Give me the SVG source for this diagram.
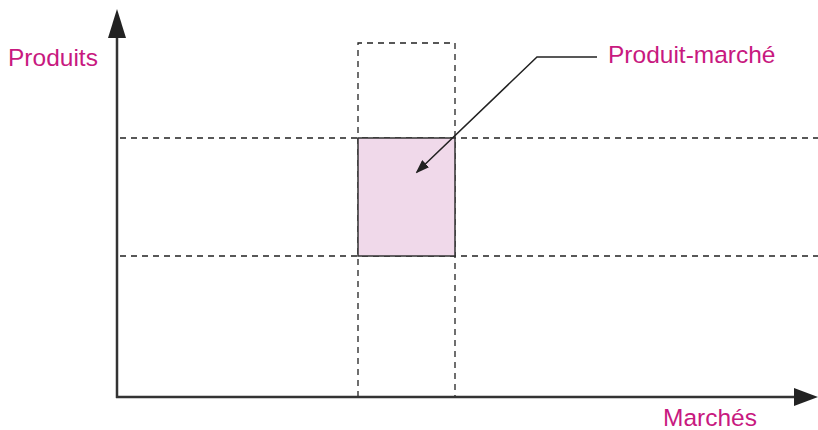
<svg xmlns="http://www.w3.org/2000/svg" width="818" height="430" viewBox="0 0 818 430">
<style>
.lbl{font-family:"Liberation Sans",Arial,sans-serif;font-size:24.5px;fill:#c8197f}
.dash{stroke:#222;stroke-width:1.3;stroke-dasharray:6,5;fill:none}
.axis{stroke:#333;stroke-width:2.5;fill:none}
</style>
<defs>
<marker id="ah" markerWidth="14" markerHeight="10" refX="12" refY="5" orient="auto" markerUnits="userSpaceOnUse"><path d="M0,0 L14,5 L0,10 Z" fill="#222"/></marker>
</defs>
<g id="grid">
<line class="dash" x1="120" y1="138" x2="818" y2="138"/>
<line class="dash" x1="120" y1="256" x2="818" y2="256"/>
<polyline class="dash" points="358,397 358,43 455,43 455,397"/>
</g>
<g id="produit-marche-box">
<rect x="358" y="138" width="97" height="118" fill="#f0d9ea" stroke="#333" stroke-width="1.5"/>
</g>
<g id="axes">
<line class="axis" x1="117" y1="398" x2="117" y2="36"/>
<polygon points="117,9 108,38 126,38" fill="#222"/>
<line class="axis" x1="116" y1="397" x2="796" y2="397"/>
<polygon points="818,397 794,388 794,406" fill="#222"/>
</g>
<g id="connectors">
<polyline points="597,57 537,57 417,172" fill="none" stroke="#222" stroke-width="1.5" marker-end="url(#ah)"/>
</g>
<g id="labels">
<text class="lbl" x="8" y="66">Produits</text>
<text class="lbl" x="608" y="63">Produit-marché</text>
<text class="lbl" x="663" y="426">Marchés</text>
</g>
</svg>
